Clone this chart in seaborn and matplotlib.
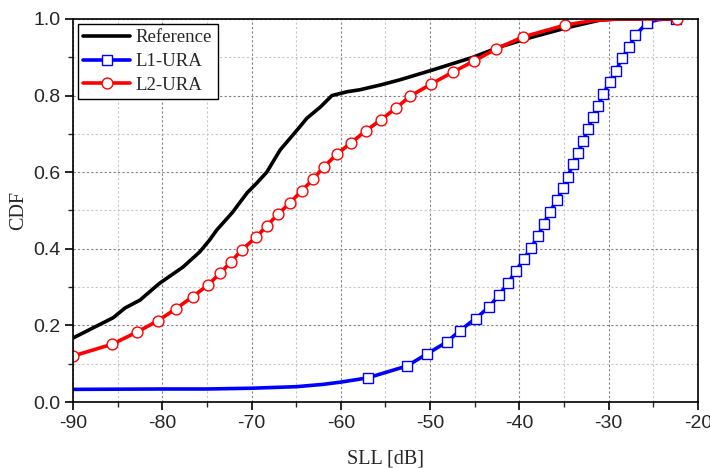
import numpy as np
import matplotlib
matplotlib.use('Agg')
import matplotlib.pyplot as plt
from matplotlib.ticker import MultipleLocator, FormatStrFormatter
import seaborn as sns

#%% data (SLL in dB, CDF)

ref_x = [-90, -87.8, -85.5, -84.2, -82.5, -80.3, -77.7, -75.8, -74.7, -73.9, -72.1,
         -71.5, -70.5, -69.4, -68.3, -66.8, -64.9, -63.8, -62.3, -61.0, -59.3, -57.9,
         -55.5, -53.4, -49.7, -45.2, -42.2, -38.5, -34.7, -31.0, -29.0, -22.5]
ref_y = [0.167, 0.193, 0.220, 0.245, 0.266, 0.310, 0.352, 0.392, 0.423, 0.449, 0.496,
         0.515, 0.546, 0.572, 0.600, 0.658, 0.710, 0.741, 0.770, 0.800, 0.810, 0.815,
         0.828, 0.841, 0.867, 0.900, 0.927, 0.953, 0.977, 0.997, 1.000, 1.000]

l1_x = [-90, -80, -75, -70, -65, -62, -60, -57.0, -52.6, -50.4, -48.1, -46.7, -44.9,
        -43.4, -42.3, -41.3, -40.4, -39.5, -38.7, -37.9, -37.3, -36.6, -35.8, -35.1,
        -34.6, -34.0, -33.4, -32.9, -32.3, -31.8, -31.2, -30.6, -29.9, -29.2, -28.5,
        -27.7, -27.0, -25.7, -24.5, -23.5, -22.5]
l1_y = [0.033, 0.034, 0.034, 0.036, 0.040, 0.046, 0.052, 0.063, 0.094, 0.125, 0.157,
        0.186, 0.218, 0.248, 0.279, 0.310, 0.342, 0.373, 0.403, 0.434, 0.465, 0.496,
        0.527, 0.559, 0.588, 0.621, 0.650, 0.681, 0.713, 0.744, 0.773, 0.804, 0.836,
        0.864, 0.898, 0.927, 0.958, 0.990, 0.998, 1.000, 1.000]
l1_marks = [i for i in range(len(l1_x)) if l1_x[i] >= -57.5 and l1_x[i] not in (-24.5, -23.5)]

l2_x = [-90, -85.6, -82.8, -80.5, -78.5, -76.6, -74.9, -73.5, -72.3, -71.1, -69.5,
        -68.3, -67.0, -65.7, -64.4, -63.1, -61.9, -60.4, -58.9, -57.2, -55.5, -53.8,
        -52.2, -49.9, -47.4, -45.1, -42.6, -39.6, -34.9, -32.0, -29.0, -22.4]
l2_y = [0.120, 0.151, 0.183, 0.212, 0.243, 0.275, 0.305, 0.337, 0.366, 0.397, 0.430,
        0.460, 0.491, 0.520, 0.551, 0.582, 0.614, 0.648, 0.676, 0.708, 0.737, 0.768,
        0.799, 0.830, 0.862, 0.890, 0.922, 0.953, 0.984, 0.995, 1.000, 1.000]
l2_marks = [i for i in range(len(l2_x)) if l2_x[i] not in (-32.0, -29.0)]

#%% plot

sns.set_style('ticks')
plt.rcParams['font.family'] = ['Liberation Sans', 'DejaVu Sans']
plt.rcParams['axes.unicode_minus'] = False

fig = plt.figure(figsize=(7.1, 4.68), dpi=100)
ax = fig.add_axes([0.1028, 0.141, 0.8803, 0.8185])

sns.lineplot(x=ref_x, y=ref_y, ax=ax, color='black', lw=2.6, label='Reference',
             estimator=None, sort=False)
sns.lineplot(x=l1_x, y=l1_y, ax=ax, color='#0000ff', lw=2.6, label='L1-URA',
             estimator=None, sort=False, marker='s', markevery=l1_marks, ms=7,
             mfc='white', mec='#0000ff', mew=1.0)
sns.lineplot(x=l2_x, y=l2_y, ax=ax, color='#ff0000', lw=2.6, label='L2-URA',
             estimator=None, sort=False, marker='o', markevery=l2_marks, ms=7.8,
             mfc='white', mec='#ff0000', mew=1.0)

ax.set_xlim(-90, -20)
ax.set_ylim(0, 1)
ax.xaxis.set_major_locator(MultipleLocator(10))
ax.xaxis.set_minor_locator(MultipleLocator(5))
ax.yaxis.set_major_locator(MultipleLocator(0.2))
ax.yaxis.set_minor_locator(MultipleLocator(0.1))
ax.yaxis.set_major_formatter(FormatStrFormatter('%.1f'))

ax.grid(which='major', color='#808080', ls=(0, (2, 2)), lw=0.8)
ax.grid(which='minor', color='#c8c8c8', ls=(0, (2, 2)), lw=0.8)
ax.set_axisbelow(True)

ax.tick_params(which='major', direction='out', length=6, width=1.2, labelsize=14,
               color='black', top=False, right=False, pad=3)
ax.tick_params(which='minor', direction='out', length=3.5, width=1.0,
               top=False, right=False)
for s in ax.spines.values():
    s.set_linewidth(1.2)
    s.set_color('black')

ax.set_xlabel('SLL [dB]', family=['Liberation Serif'], fontsize=14.5, labelpad=13)
ax.set_ylabel('CDF', family=['Liberation Serif'], fontsize=14.5, labelpad=4)

leg = ax.legend(loc='upper left', prop={'family': 'Liberation Serif', 'size': 13.5},
                fancybox=False, framealpha=1, edgecolor='black', borderaxespad=0.25,
                handlelength=2.5, labelspacing=0.35, borderpad=0.3, handletextpad=0.3)
leg.get_frame().set_linewidth(1.0)

fig.savefig('out.png', dpi=100)
